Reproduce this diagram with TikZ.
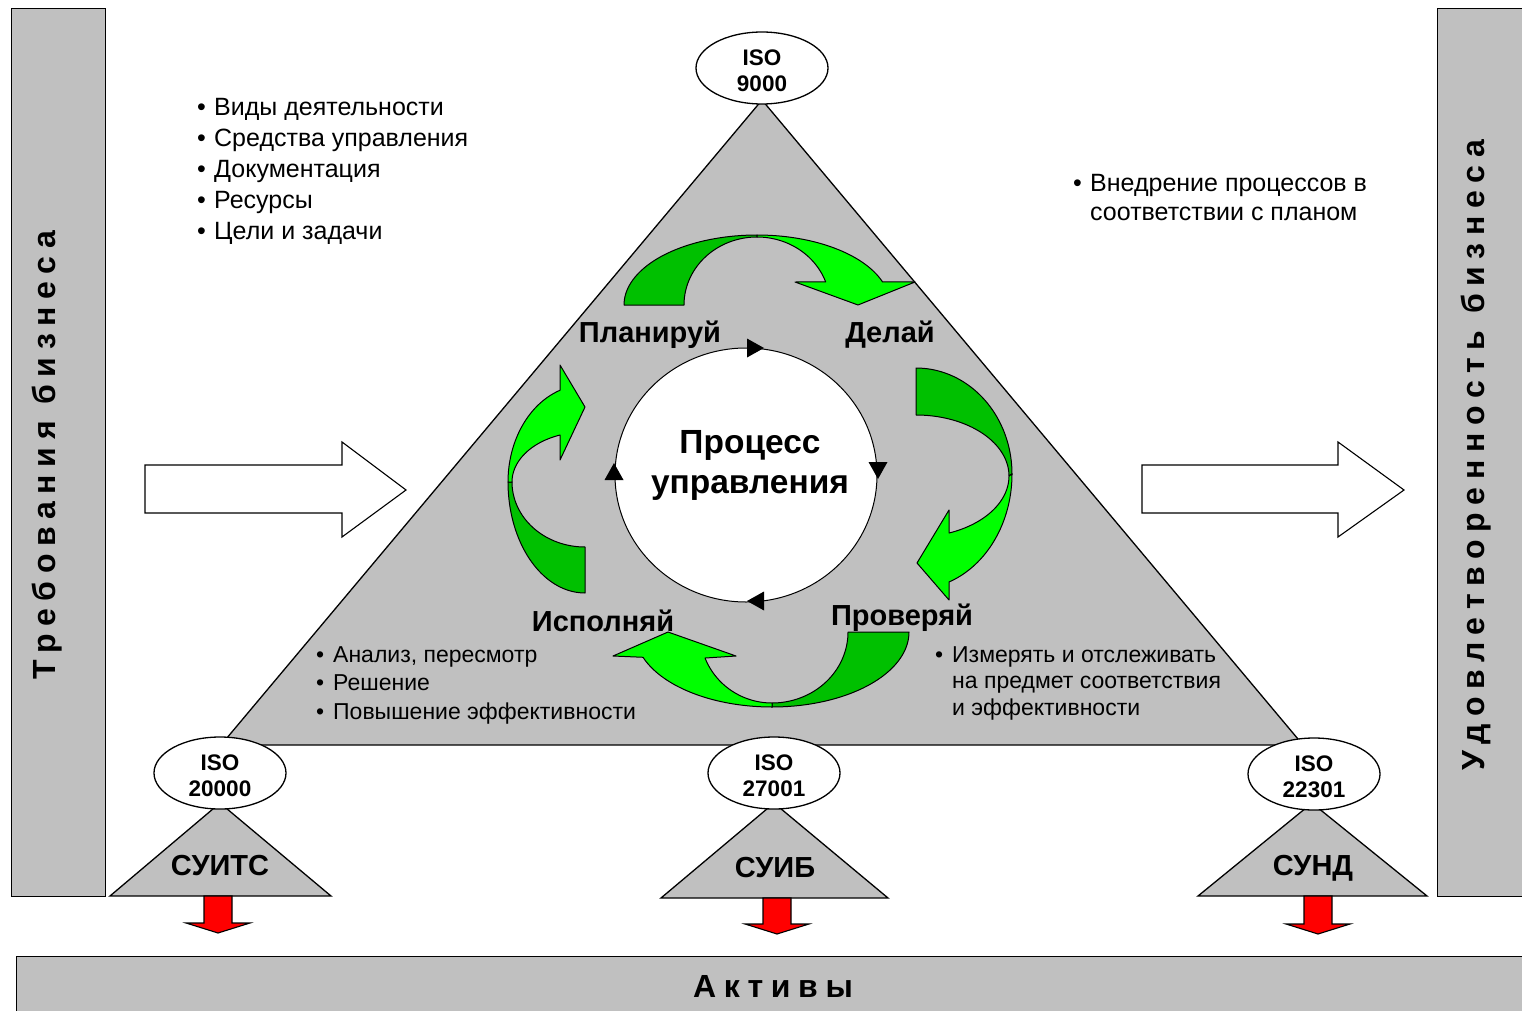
\documentclass[tikz,border=0pt]{standalone}
\usepackage{fontspec}
\setmainfont{Liberation Sans}
\newfontfamily\spacedfont[LetterSpace=24]{Liberation Sans}
\usetikzlibrary{shapes.geometric}
\definecolor{panelgray}{HTML}{C0C0C0}
\definecolor{darkgreen}{HTML}{00C000}
\definecolor{lightgreen}{HTML}{00FF00}
\definecolor{arrowred}{HTML}{FF0000}
\newcommand{\bulletitem}{\makebox[17pt][l]{•}}
\newcommand{\bulletindent}{\hspace*{17pt}}
\begin{document}
\begin{tikzpicture}[x=1pt,y=-1pt,
  outline/.style={draw=black, line width=1.3pt, line join=miter},
  bar/.style={draw=black, fill=panelgray, line width=1.3pt, inner sep=0pt},
  bartext/.style={font=\fontsize{32}{36}\selectfont\spacedfont\bfseries, inner sep=0pt},
  isoellipse/.style={ellipse, draw=black, fill=white, line width=1.3pt, minimum width=132pt, minimum height=72pt, inner sep=0pt},
  isotext/.style={align=center, inner sep=0pt, font=\fontsize{22.5}{26}\selectfont\bfseries},
  greenpart/.style={draw=black, line width=1pt, line join=round},
  hollow/.style={draw=black, fill=white, line width=1.1pt},
  redarrow/.style={draw=black, fill=arrowred, line width=1.1pt},
  phase/.style={font=\fontsize{29}{32}\selectfont\bfseries, inner sep=0pt},
  acronym/.style={font=\fontsize{29}{32}\selectfont\bfseries, inner sep=0pt},
  bulletsbig/.style={align=left, inner sep=0pt, anchor=north west, font=\fontsize{25}{31}\selectfont},
  bulletsmid/.style={align=left, inner sep=0pt, anchor=north west, font=\fontsize{25}{29}\selectfont},
  bulletsbl/.style={align=left, inner sep=0pt, anchor=north west, font=\fontsize{23}{28.5}\selectfont},
  bulletsbr/.style={align=left, inner sep=0pt, anchor=north west, font=\fontsize{23}{26.5}\selectfont},
  cyclehead/.style={fill=black}
]
\useasboundingbox (0,0) rectangle (1522,1011);

% side and bottom bars
\node[bar, minimum width=94pt, minimum height=888pt, anchor=north west] (reqbar) at (11,8) {};
\node[bartext, rotate=90] (reqtext) at (47,455) {Требования бизнеса};
\node[bar, minimum width=100pt, minimum height=888pt, anchor=north west] (satbar) at (1437,8) {};
\node[bartext, rotate=90] (sattext) at (1476,455) {Удовлетворенность бизнеса};
\node[bar, minimum width=1520pt, minimum height=80pt, anchor=north west] (assets) at (16,956) {};
\node[bartext] (assetstext) at (773,986) {Активы};

% main triangle
\coordinate (apex) at (762,100);
\coordinate (leftcorner) at (221,745);
\coordinate (rightcorner) at (1303,745);
\draw[outline, fill=panelgray] (apex) -- (leftcorner) -- (rightcorner) -- cycle;

% hollow block arrows
\draw[hollow] (145,465) -- (342,465) -- (342,442) -- (406,490) -- (342,537) -- (342,513) -- (145,513) -- cycle;
\draw[hollow] (1142,465) -- (1338,465) -- (1338,442) -- (1404,490) -- (1338,537) -- (1338,513) -- (1142,513) -- cycle;

% central cycle
\node[ellipse, draw=black, fill=white, line width=1pt, minimum width=262pt, minimum height=254pt, inner sep=0pt] (cyc) at (746,475) {};
\node[font=\fontsize{33.5}{40}\selectfont\bfseries, align=center, inner sep=0pt] (proc) at (750,465) {Процесс\\управления};
\fill[cyclehead, shift={(764,348)}] (0,0) -- (-17,-9.5) -- (-17,9.5) -- cycle;
\fill[cyclehead, shift={(878,479)}, rotate=-90] (0,0) -- (-17,-9.5) -- (-17,9.5) -- cycle;
\fill[cyclehead, shift={(747,601)}, rotate=180] (0,0) -- (-17,-9.5) -- (-17,9.5) -- cycle;
\fill[cyclehead, shift={(614,463)}, rotate=90] (0,0) -- (-17,-9.5) -- (-17,9.5) -- cycle;

% top curved arrow (Plan -> Do)
\filldraw[greenpart, fill=darkgreen] plot[domain=180:270, samples=40, variable=\t] ({757+133*cos(\t)},{305+70*sin(\t)})
  -- plot[domain=270:180, samples=40, variable=\t] ({757+73*cos(\t)},{305+68*sin(\t)}) -- cycle;
\filldraw[greenpart, fill=lightgreen] plot[domain=270:340.8, samples=40, variable=\t] ({757+133*cos(\t)},{305+70*sin(\t)})
  -- (915,282) -- (858,305) -- (795,282)
  -- plot[domain=340.2:270, samples=40, variable=\t] ({757+73*cos(\t)},{305+68*sin(\t)}) -- cycle;

% right curved arrow (Do -> Check)
\filldraw[greenpart, fill=darkgreen] plot[domain=270:360, samples=40, variable=\t] ({916+96*cos(\t)},{474+106*sin(\t)})
  -- plot[domain=360:270, samples=40, variable=\t] ({916+93*cos(\t)},{476+61*sin(\t)}) -- cycle;
\filldraw[greenpart, fill=lightgreen] plot[domain=0:69.9, samples=40, variable=\t] ({916+96*cos(\t)},{474+115*sin(\t)})
  -- (949,600) -- (917,563) -- (949,510)
  -- plot[domain=69.2:0, samples=40, variable=\t] ({916+93*cos(\t)},{476+61*sin(\t)}) -- cycle;

% bottom curved arrow (Check -> Act)
\filldraw[greenpart, fill=darkgreen] plot[domain=0:90, samples=40, variable=\t] ({772+137*cos(\t)},{632+75*sin(\t)})
  -- plot[domain=90:0, samples=40, variable=\t] ({772+76*cos(\t)},{632+71*sin(\t)}) -- cycle;
\filldraw[greenpart, fill=lightgreen] plot[domain=90:160.3, samples=40, variable=\t] ({772+137*cos(\t)},{632+75*sin(\t)})
  -- (613,656) -- (668,632) -- (736,656)
  -- plot[domain=158.5:90, samples=40, variable=\t] ({772+72*cos(\t)},{632+71*sin(\t)}) -- cycle;

% left curved arrow (Act -> Plan)
\filldraw[greenpart, fill=darkgreen] plot[domain=90:180, samples=40, variable=\t] ({585+77*cos(\t)},{482+111*sin(\t)})
  -- plot[domain=180:90, samples=40, variable=\t] ({585+73*cos(\t)},{482+65*sin(\t)}) -- cycle;
\filldraw[greenpart, fill=lightgreen] plot[domain=180:251.05, samples=40, variable=\t] ({585+77*cos(\t)},{482+97*sin(\t)})
  -- (560,365) -- (585,407) -- (560,460)
  -- plot[domain=250:180, samples=40, variable=\t] ({585+73*cos(\t)},{482+50*sin(\t)}) -- cycle;

% phase labels
\node[phase] (plan) at (650,335) {Планируй};
\node[phase] (do) at (890,335) {Делай};
\node[phase] (act) at (603,621) {Исполняй};
\node[phase] (check) at (902,618) {Проверяй};

% bullet lists
\node[bulletsbig] (plannotes) at (197,98) {\bulletitem Виды деятельности\\\bulletitem Средства управления\\\bulletitem Документация\\\bulletitem Ресурсы\\\bulletitem Цели и задачи};
\node[bulletsmid] (donotes) at (1073,174) {\bulletitem Внедрение процессов в\\\bulletindent соответствии с планом};
\node[bulletsbl] (actnotes) at (316,646) {\bulletitem Анализ, пересмотр\\\bulletitem Решение\\\bulletitem Повышение эффективности};
\node[bulletsbr] (checknotes) at (935,646) {\bulletitem Измерять и отслеживать\\\bulletindent на предмет соответствия\\\bulletindent и эффективности};

% management-system triangles
\draw[outline, fill=panelgray] (220,803) -- (331,896) -- (110,896) -- cycle;
\draw[outline, fill=panelgray] (774,803) -- (888,898) -- (661,898) -- cycle;
\draw[outline, fill=panelgray] (1312,803) -- (1427,896) -- (1198,896) -- cycle;
\node[acronym] (suits) at (220,866) {СУИТС};
\node[acronym] (suib) at (775,868) {СУИБ};
\node[acronym] (sund) at (1313,868) {СУНД};

% standards ellipses
\node[isoellipse] (iso9000) at (762,68) {};
\node[isotext] (iso9000text) at (762,71) {ISO\\9000};
\node[isoellipse] (iso20000) at (220,773) {};
\node[isotext] (iso20000text) at (220,776) {ISO\\20000};
\node[isoellipse] (iso27001) at (774,773) {};
\node[isotext] (iso27001text) at (774,776) {ISO\\27001};
\node[isoellipse] (iso22301) at (1314,774) {};
\node[isotext] (iso22301text) at (1314,777) {ISO\\22301};

% red arrows to assets
\draw[redarrow, shift={(218,0)}] (-14,896) -- (14,896) -- (14,923) -- (32,923) -- (0,933) -- (-32,923) -- (-14,923) -- cycle;
\draw[redarrow, shift={(777,0)}] (-14,898) -- (14,898) -- (14,924) -- (32,924) -- (0,934) -- (-32,924) -- (-14,924) -- cycle;
\draw[redarrow, shift={(1318,0)}] (-14,896) -- (14,896) -- (14,924) -- (32,924) -- (0,934) -- (-32,924) -- (-14,924) -- cycle;
\end{tikzpicture}
\end{document}
